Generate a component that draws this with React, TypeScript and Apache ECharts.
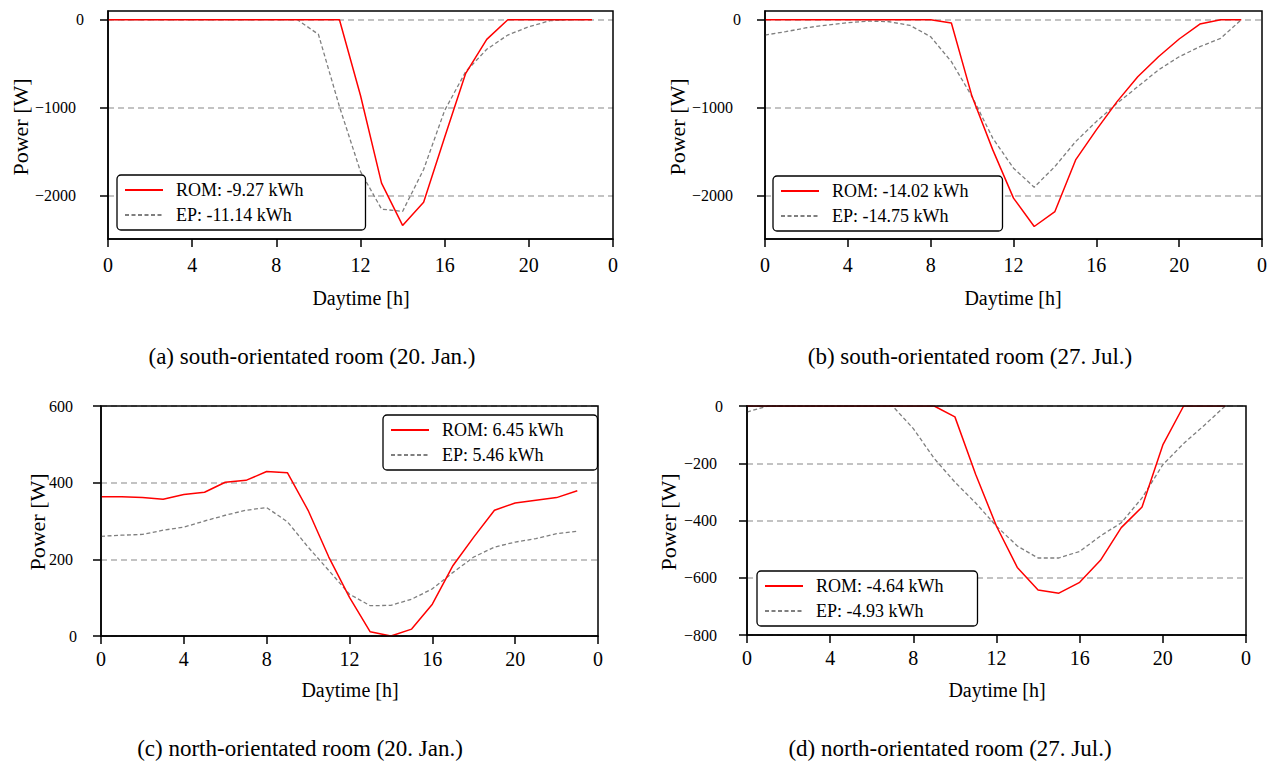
import React, { useEffect, useRef } from "react";
import * as echarts from "echarts";

const hours = [0, 1, 2, 3, 4, 5, 6, 7, 8, 9, 10, 11, 12, 13, 14, 15, 16, 17, 18, 19, 20, 21, 22, 23];

const aRom = [0, 0, 0, 0, 0, 0, 0, 0, 0, 0, 0, 0, -860, -1856, -2336, -2072, -1335, -609, -223, 0, 0, 0, 0, 0];
const aEp = [0, 0, 0, 0, 0, 0, 0, 0, 0, 0, -166, -987, -1724, -2151, -2177, -1700, -1030, -590, -336, -174, -80, -11, 0, 0];
const bRom = [0, 0, 0, 0, 0, 0, 0, 0, 0, -38, -873, -1478, -2026, -2348, -2178, -1592, -1251, -930, -647, -420, -219, -49, 0, 0];
const bEp = [-174, -136, -91, -60, -34, -15, -23, -64, -193, -476, -873, -1346, -1686, -1902, -1667, -1384, -1157, -949, -760, -571, -420, -306, -212, 0];
const cRom = [363, 363, 361, 357, 369, 375, 401, 406, 429, 426, 328, 206, 101, 11, 0, 18, 83, 184, 258, 328, 347, 354, 361, 379];
const cEp = [260, 263, 265, 276, 284, 300, 315, 328, 335, 298, 232, 171, 109, 79, 80, 96, 123, 166, 206, 232, 245, 254, 267, 273];
const dRom = [0, 0, 0, 0, 0, 0, 0, 0, 0, 0, -38, -239, -420, -564, -643, -654, -616, -539, -425, -353, -136, 0, 0, 0];
const dEp = [-21, 0, 0, 0, 0, 0, 0, 0, -79, -183, -266, -339, -420, -489, -531, -531, -508, -454, -408, -321, -205, -131, -67, 0];

const yTicksAB = [-2000, -1000, 0];
const yTicksC = [0, 200, 400, 600];
const yTicksD = [-800, -600, -400, -200, 0];

const legendNames = [
  ["ROM: -9.27 kWh", "EP: -11.14 kWh"],
  ["ROM: -14.02 kWh", "EP: -14.75 kWh"],
  ["ROM: 6.45 kWh", "EP: 5.46 kWh"],
  ["ROM: -4.64 kWh", "EP: -4.93 kWh"],
];
const captions = [
  "(a) south-orientated room (20. Jan.)",
  "(b) south-orientated room (27. Jul.)",
  "(c) north-orientated room (20. Jan.)",
  "(d) north-orientated room (27. Jul.)",
];

const FONT = "Liberation Serif";

export default function App() {
  const ref = useRef<HTMLDivElement>(null);
  useEffect(() => {
    if (!ref.current) return;
    const chart = echarts.init(ref.current, undefined, { renderer: "svg" });

    const grids = [
      { left: 108, top: 11, width: 505, height: 228 },
      { left: 765, top: 11, width: 497, height: 228 },
      { left: 101, top: 406, width: 497, height: 230 },
      { left: 747, top: 406, width: 499, height: 229 },
    ];
    const yRanges = [
      [-2490, 99],
      [-2490, 99],
      [0, 600],
      [-800, 0],
    ];
    const yTicks = [yTicksAB, yTicksAB, yTicksC, yTicksD];
    const yPad = [8, 8, 4, 6];
    const xMargin = [16, 16, 13, 13];
    const romData = [aRom, bRom, cRom, dRom];
    const epData = [aEp, bEp, cEp, dEp];
    const legendPos = [
      { left: 117, top: 175 },
      { left: 773, top: 176 },
      { left: 383, top: 415 },
      { left: 757, top: 571 },
    ];
    const legendPadR = [62, 34, 34, 34];
    const powerPos = [
      [20, 127],
      [677, 127],
      [37, 522],
      [668, 522],
    ];
    const dayPos = [
      [361, 298],
      [1013, 298],
      [350, 690],
      [997, 690],
    ];
    const capPos = [
      [312, 356],
      [970, 356],
      [300, 748],
      [950, 748],
    ];

    const fmtY = (v: number) => (v < 0 ? "\u2212" + Math.abs(v) : String(v));

    const textEl = (x: number, y: number, text: string, size: number, rot = 0) => ({
      type: "text",
      x,
      y,
      rotation: rot,
      style: {
        text,
        fill: "#000",
        fontFamily: FONT,
        fontSize: size,
        align: "center",
        verticalAlign: "middle",
        textAlign: "center",
        textVerticalAlign: "middle",
      },
    });

    const option: any = {
      animation: false,
      backgroundColor: "#fff",
      textStyle: { fontFamily: FONT },
      grid: grids.map((g) => ({
        ...g,
        show: true,
        borderColor: "#000",
        borderWidth: 1.5,
        backgroundColor: "transparent",
        z: 5,
      })),
      xAxis: grids.map((_, i) => ({
        type: "value",
        gridIndex: i,
        min: 0,
        max: 24,
        interval: 4,
        axisLine: { show: true, onZero: false, lineStyle: { color: "#000", width: 1.5 } },
        axisTick: { show: true, length: 8, lineStyle: { color: "#000", width: 1.5 } },
        axisLabel: {
          show: true,
          margin: xMargin[i],
          color: "#000",
          fontFamily: FONT,
          fontSize: 20,
          formatter: (v: number) => (v === 24 ? "0" : String(v)),
        },
        splitLine: { show: false },
      })),
      yAxis: grids.map((_, i) => ({
        type: "value",
        gridIndex: i,
        min: yRanges[i][0],
        max: yRanges[i][1],
        axisLine: { show: true, onZero: false, lineStyle: { color: "#000", width: 1.5 } },
        axisTick: {
          show: true,
          length: 8,
          customValues: yTicks[i],
          lineStyle: { color: "#000", width: 1.5 },
        },
        axisLabel: {
          show: true,
          margin: 24,
          customValues: yTicks[i],
          color: "#000",
          fontFamily: FONT,
          fontSize: 16,
          formatter: (v: number) => (v === 0 ? "{z|0}" : "{n|" + fmtY(v) + "}"),
          rich: {
            z: { fontFamily: FONT, fontSize: 16, color: "#000" },
            n: { fontFamily: FONT, fontSize: 16, color: "#000", padding: [0, yPad[i], 0, 0] },
          },
        },
        splitLine: {
          show: true,
          lineStyle: { color: "#b0b0b0", width: 1.5, type: [6, 4] },
        },
      })),
      legend: grids.map((_, i) => ({
        show: true,
        orient: "vertical",
        left: legendPos[i].left,
        top: legendPos[i].top,
        data: legendNames[i],
        itemWidth: 38,
        itemHeight: 14,
        itemGap: 7,
        padding: [6, legendPadR[i], 6, 7],
        backgroundColor: "#fff",
        borderColor: "#000",
        borderWidth: 1.3,
        borderRadius: 4,
        selectedMode: false,
        z: 10,
        itemStyle: { opacity: 0 },
        textStyle: {
          fontFamily: FONT,
          fontSize: 18,
          lineHeight: 18,
          color: "#000",
          padding: [0, 0, 0, 8],
        },
      })),
      series: grids.flatMap((_, i) => [
        {
          name: legendNames[i][0],
          type: "line",
          xAxisIndex: i,
          yAxisIndex: i,
          data: hours.map((h, k) => [h, romData[i][k]]),
          showSymbol: false,
          symbol: "none",
          clip: true,
          z: 3,
          itemStyle: { color: "#ff0000" },
          lineStyle: { color: "#ff0000", width: 1.5 },
        },
        {
          name: legendNames[i][1],
          type: "line",
          xAxisIndex: i,
          yAxisIndex: i,
          data: hours.map((h, k) => [h, epData[i][k]]),
          showSymbol: false,
          symbol: "none",
          clip: true,
          z: 2,
          itemStyle: { color: "#7f7f7f" },
          lineStyle: { color: "#7f7f7f", width: 1.3, type: [4, 2.5] },
        },
      ]),
      graphic: [
        ...powerPos.map((p) => textEl(p[0], p[1], "Power [W]", 22, Math.PI / 2)),
        ...dayPos.map((p) => textEl(p[0], p[1], "Daytime [h]", 20)),
        ...capPos.map((p, i) => textEl(p[0], p[1], captions[i], 23)),
      ],
    };
    chart.setOption(option);
    return () => chart.dispose();
  }, []);
  return (
    <div
      ref={ref}
      style={{ position: "absolute", left: 0, top: 0, width: 1286, height: 767 }}
    />
  );
}
